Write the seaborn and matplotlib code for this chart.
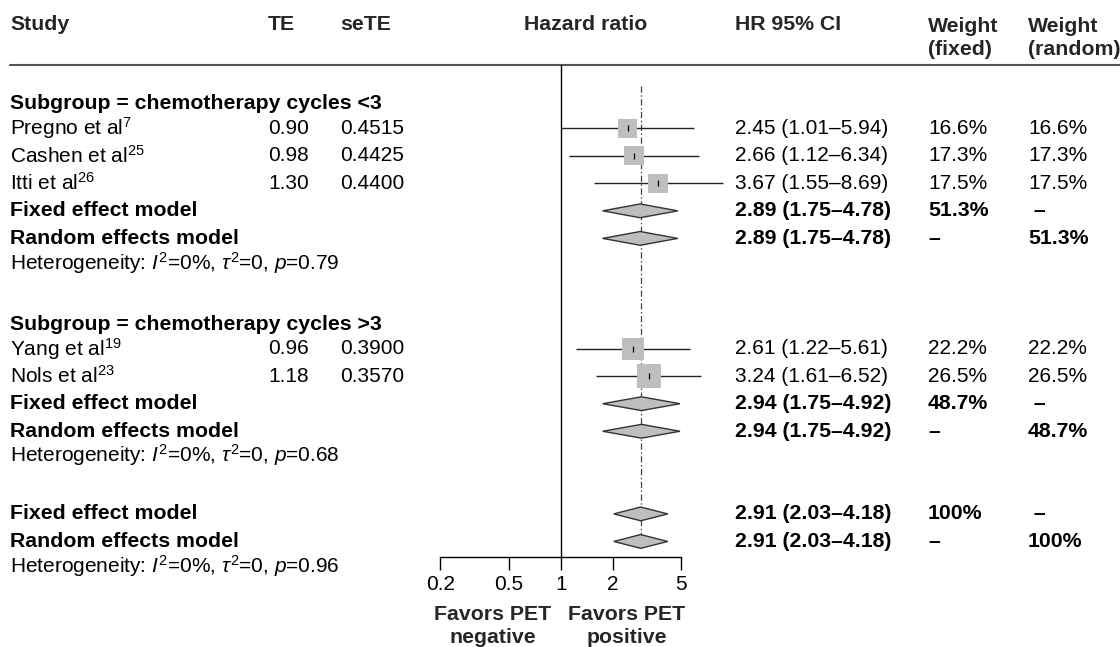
import matplotlib
matplotlib.use("Agg")
import numpy as np
import pandas as pd
import matplotlib.pyplot as plt
import seaborn as sns
from matplotlib.transforms import blended_transform_factory

# study level data
study = ["Pregno et al$^{7}$", "Cashen et al$^{25}$", "Itti et al$^{26}$",
         "Yang et al$^{19}$", "Nols et al$^{23}$"]
group = [0, 0, 0, 1, 1]
te = [0.90, 0.98, 1.30, 0.96, 1.18]
se_te = [0.4515, 0.4425, 0.4400, 0.3900, 0.3570]
hr = [2.45, 2.66, 3.67, 2.61, 3.24]
hr_lo = [1.01, 1.12, 1.55, 1.22, 1.61]
hr_hi = [5.94, 6.34, 8.69, 5.61, 6.52]
w_fixed = [16.6, 17.3, 17.5, 22.2, 26.5]
w_random = [16.6, 17.3, 17.5, 22.2, 26.5]

# subgroup summaries
sub_label = ["chemotherapy cycles <3", "chemotherapy cycles >3"]
sub_hr = [2.89, 2.94]
sub_lo = [1.75, 1.75]
sub_hi = [4.78, 4.92]
sub_w = [51.3, 48.7]
sub_p = ["0.79", "0.68"]

# overall
all_hr = 2.91
all_lo = 2.03
all_hi = 4.18
all_w = 100
all_p = "0.96"

x_ticks = [0.2, 0.5, 1, 2, 5]
x_ticklabels = ["0.2", "0.5", "1", "2", "5"]

sns.set_theme(style="white")
plt.rcParams["font.family"] = ["Liberation Sans", "DejaVu Sans"]
plt.rcParams["mathtext.fontset"] = "custom"
plt.rcParams["mathtext.rm"] = "Liberation Sans"
plt.rcParams["mathtext.it"] = "Liberation Sans:italic"
plt.rcParams["mathtext.bf"] = "Liberation Sans:bold"

FS = 15
FS_B = 15.3
W, H = 1120, 647
ROW0, ROW_H = 128.2, 27.55   # pixel y of first study row, row height
GRAY = "#bebebe"


def px_box(x0, y0, x1, y1):
    return [x0 / W, 1 - y1 / H, (x1 - x0) / W, (y1 - y0) / H]


def pct(w):
    return "100%" if w >= 100 else f"{w:.1f}%"


def ci_text(h, lo, hi):
    return f"{h:.2f} ({lo:.2f}\u2013{hi:.2f})"


fig = plt.figure(figsize=(W / 100, H / 100), dpi=100)
bg = fig.add_axes([0, 0, 1, 1])
bg.set_xlim(0, W)
bg.set_ylim(H, 0)
bg.axis("off")

ax = fig.add_axes(px_box(440.2, 65, 681.2, 556.5))
ax.patch.set_alpha(0)

tr = blended_transform_factory(bg.transData, ax.transData)


def put(x, r, s, bold=False, ha="left"):
    ax.text(x, r, s, transform=tr, ha=ha, va="center",
            fontsize=FS_B if bold else FS,
            fontweight="bold" if bold else "normal", color="black")


# lay the rows out: one unit per line
rows, sub_rows = [], []
r = -1
for g in range(2):
    sub_rows.append(r + 0.12)
    put(10, r + 0.12, f"Subgroup = {sub_label[g]}", bold=True)
    r += 1
    for i in [k for k in range(len(study)) if group[k] == g]:
        rows.append(r)
        put(10, r, study[i])
        put(268, r, f"{te[i]:.2f}")
        put(340, r, f"{se_te[i]:.4f}")
        put(735, r, ci_text(hr[i], hr_lo[i], hr_hi[i]))
        put(928, r, pct(w_fixed[i]))
        put(1028, r, pct(w_random[i]))
        r += 1
    sub_rows.append(r)
    put(10, r, "Fixed effect model", bold=True)
    put(735, r, ci_text(sub_hr[g], sub_lo[g], sub_hi[g]), bold=True)
    put(928, r, pct(sub_w[g]), bold=True)
    put(1028, r, " \u2013", bold=True)
    r += 1
    sub_rows.append(r)
    put(10, r, "Random effects model", bold=True)
    put(735, r, ci_text(sub_hr[g], sub_lo[g], sub_hi[g]), bold=True)
    put(928, r, "\u2013", bold=True)
    put(1028, r, pct(sub_w[g]), bold=True)
    r += 1
    put(10, r - 0.12, "Heterogeneity: $I^{2}$=0%, $\\tau^{2}$=0, $p$=" + sub_p[g])
    r += 2

overall_rows = [r, r + 1]
put(10, r, "Fixed effect model", bold=True)
put(735, r, ci_text(all_hr, all_lo, all_hi), bold=True)
put(928, r, pct(all_w), bold=True)
put(1028, r, " \u2013", bold=True)
put(10, r + 1, "Random effects model", bold=True)
put(735, r + 1, ci_text(all_hr, all_lo, all_hi), bold=True)
put(928, r + 1, "\u2013", bold=True)
put(1028, r + 1, pct(all_w), bold=True)
put(10, r + 2 - 0.12, "Heterogeneity: $I^{2}$=0%, $\\tau^{2}$=0, $p$=" + all_p)

# summary diamonds (subgroup fixed, random, ..., overall fixed, random)
dia_rows = [sub_rows[1], sub_rows[2], sub_rows[4], sub_rows[5]] + overall_rows
dia_hr = [sub_hr[0], sub_hr[0], sub_hr[1], sub_hr[1], all_hr, all_hr]
dia_lo = [sub_lo[0], sub_lo[0], sub_lo[1], sub_lo[1], all_lo, all_lo]
dia_hi = [sub_hi[0], sub_hi[0], sub_hi[1], sub_hi[1], all_hi, all_hi]

# header
hdr = dict(fontsize=FS_B, fontweight="bold", va="center")
bg.text(10, 25, "Study", **hdr)
bg.text(268, 25, "TE", **hdr)
bg.text(340, 25, "seTE", **hdr)
bg.text(586, 25, "Hazard ratio", ha="center", **hdr)
bg.text(735, 25, "HR 95% CI", **hdr)
bg.text(928, 38, "Weight\n(fixed)", linespacing=1.3, **hdr)
bg.text(1028, 38, "Weight\n(random)", linespacing=1.3, **hdr)
bg.plot([10, W], [65, 65], color="#555555", lw=1.5)

# forest panel
df = pd.DataFrame({"hr": hr, "lo": hr_lo, "hi": hr_hi, "w": w_fixed, "row": rows})
ax.hlines(df["row"], df["lo"], df["hi"], color="#222222", lw=1, clip_on=False, zorder=2)
wmin, wmax = min(w_fixed), max(w_fixed)
sns.scatterplot(data=df, x="hr", y="row", size="w", sizes=(11.27 * wmin, 11.27 * wmax),
                size_norm=(wmin, wmax), marker="s", color=GRAY, linewidth=0,
                legend=False, ax=ax, zorder=3)
ax.scatter(df["hr"], df["row"], marker="|", s=25, color="black", linewidths=0.9, zorder=4)

for rr, h, lo, hi in zip(dia_rows, dia_hr, dia_lo, dia_hi):
    ax.fill([lo, h, hi, h], [rr, rr - 0.25, rr, rr + 0.25], facecolor=GRAY,
            edgecolor="#333333", lw=1, zorder=3)

ax.axvline(1, color="black", lw=1, zorder=1)
ax.vlines(all_hr, (86 - ROW0) / ROW_H, overall_rows[1] + 0.25, color="#444444",
          lw=0.9, linestyles=[(0, (5, 2, 1.2, 2))], zorder=1)

ax.set_xscale("log")
ax.set_xlim(0.2, 5)
ax.set_ylim((556.5 - ROW0) / ROW_H, (65 - ROW0) / ROW_H)
ax.xaxis.set_minor_locator(matplotlib.ticker.NullLocator())
ax.set_xticks(x_ticks)
ax.set_xticklabels(x_ticklabels)
ax.set_yticks([])
ax.set_xlabel("")
ax.set_ylabel("")
for side in ["top", "right", "left"]:
    ax.spines[side].set_visible(False)
ax.spines["bottom"].set_color("black")
ax.spines["bottom"].set_linewidth(1)
ax.tick_params(axis="x", direction="out", length=9, width=1, pad=4,
               labelsize=FS, colors="black", bottom=True)

bg.text(493, 626, "Favors PET\nnegative", fontsize=FS_B, fontweight="bold",
        ha="center", va="center", linespacing=1.25)
bg.text(626.5, 626, "Favors PET\npositive", fontsize=FS_B, fontweight="bold",
        ha="center", va="center", linespacing=1.25)

fig.savefig("out.png", dpi=100)
